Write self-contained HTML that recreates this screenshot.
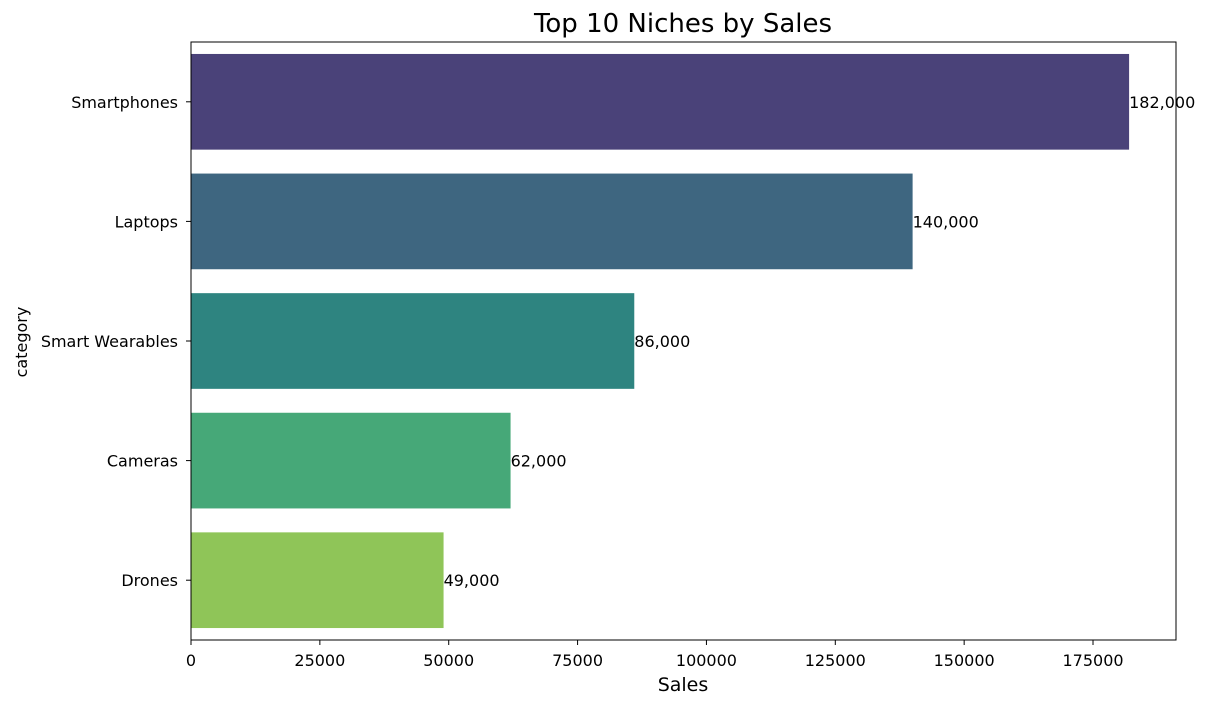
<!DOCTYPE html>
<html><head><meta charset="utf-8"><style>
body{margin:0;background:#fff;}
svg{font-family:"DejaVu Sans","Liberation Sans",sans-serif;}
</style></head><body>
<svg id="chart" width="1210" height="707"></svg>
<script>
const categories=["Smartphones","Laptops","Smart Wearables","Cameras","Drones"];
const sales=[182000,140000,86000,62000,49000];
const valueLabels=["182,000","140,000","86,000","62,000","49,000"];
const colors=["#4a4279","#3e6680","#2e8480","#46a878","#8fc558"];
const ticks=[0,25000,50000,75000,100000,125000,150000,175000];

const svg=document.getElementById('chart');
const NS="http://www.w3.org/2000/svg";
const L=191,R=1176,T=42,B=640;
const xmax=Math.max(...sales)*1.05;
const x=v=>L+(v/xmax)*(R-L);
const band=(B-T)/categories.length;
const y=i=>T+band*i+band/2;
function mk(tag,a,txt){const e=document.createElementNS(NS,tag);for(const k in a)e.setAttribute(k,a[k]);if(txt!==undefined)e.textContent=txt;svg.appendChild(e);return e;}

const title=mk('text',{x:683,y:32,'text-anchor':'middle','font-size':26,fill:'#000'},'Top 10 Niches by Sales');



categories.forEach((c,i)=>{
  const h=band*0.8;
  const r=mk('rect',{x:L,y:y(i)-h/2,width:x(sales[i])-L,height:h,fill:colors[i]});
  
  
  const v=mk('text',{x:x(sales[i]),y:y(i)+6,'font-size':16,fill:'#000'},valueLabels[i]);
  
  
  mk('line',{x1:L-5,x2:L,y1:y(i),y2:y(i),stroke:'#000','stroke-width':1});
  const t=mk('text',{x:L-13,y:y(i)+6,'text-anchor':'end','font-size':16,fill:'#000'},c);
  
  
});
ticks.forEach(tv=>{
  mk('line',{x1:x(tv),x2:x(tv),y1:B,y2:B+5,stroke:'#000','stroke-width':1});
  const t=mk('text',{x:x(tv),y:B+26,'text-anchor':'middle','font-size':16,fill:'#000'},String(tv));
  
  
});
const frame=mk('rect',{x:L,y:T,width:R-L,height:B-T,fill:'none',stroke:'#000','stroke-width':1});


const xl=mk('text',{x:683,y:691,'text-anchor':'middle','font-size':19,fill:'#000'},'Sales');


const yl=mk('text',{x:0,y:0,'text-anchor':'middle','font-size':16,fill:'#000',transform:'translate(27,342) rotate(-90)'},'category');


</script>
</body></html>
